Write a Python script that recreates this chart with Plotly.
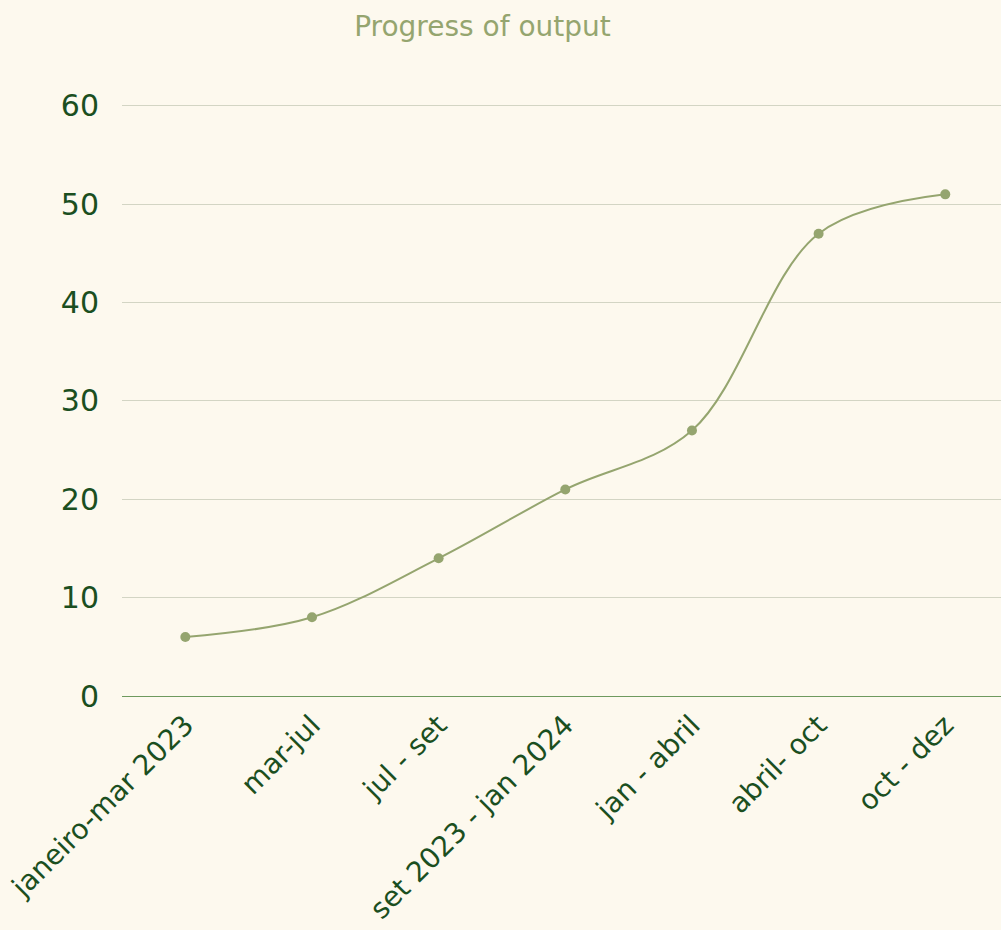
import plotly.graph_objects as go

categories = ["janeiro-mar 2023", "mar-jul", "jul - set", "set 2023 - jan 2024",
              "jan - abril", "abril- oct", "oct - dez"]
values = [6, 8, 14, 21, 27, 47, 51]
y_ticks = [0, 10, 20, 30, 40, 50, 60]

line_color = "#95A56F"
text_color = "#1B4F1F"
bg = "#FDF9EE"
font_family = "DejaVu Sans, Verdana, sans-serif"

fig = go.Figure(go.Scatter(
    x=list(range(len(categories))), y=values, mode="lines+markers",
    line=dict(color=line_color, width=2, shape="spline", smoothing=1.0),
    marker=dict(color=line_color, size=10),
    hoverinfo="x+y"))

fig.update_layout(
    width=1001, height=930,
    paper_bgcolor=bg, plot_bgcolor=bg,
    margin=dict(l=122, r=0, t=96, b=234),
    font=dict(family=font_family, color=text_color, size=28),
    title=dict(text="Progress of output", x=0.482, xanchor="center", y=0.972, yanchor="middle",
               font=dict(size=28, color=line_color, family=font_family)),
    showlegend=False,
    xaxis=dict(tickmode="array", tickvals=list(range(len(categories))), ticktext=categories,
               range=[-0.5, 6.44], tickangle=-45, showgrid=False, zeroline=False,
               showline=False, ticks="", ticklabelstandoff=6, ticklabeloverflow="allow",
               tickfont=dict(size=28, color=text_color)),
    yaxis=dict(range=[0, 61], tickvals=y_ticks, showgrid=True, gridcolor="#D3D5C4",
               gridwidth=1, zeroline=True, zerolinecolor="#6E9A5E", zerolinewidth=1,
               showline=False, ticks="", ticklen=0, ticklabelstandoff=22,
               tickfont=dict(size=30, color=text_color)),
)
fig.write_html("out.html", config={"displayModeBar": False},
               post_script="document.body.style.margin='0';document.body.style.overflow='hidden';")
